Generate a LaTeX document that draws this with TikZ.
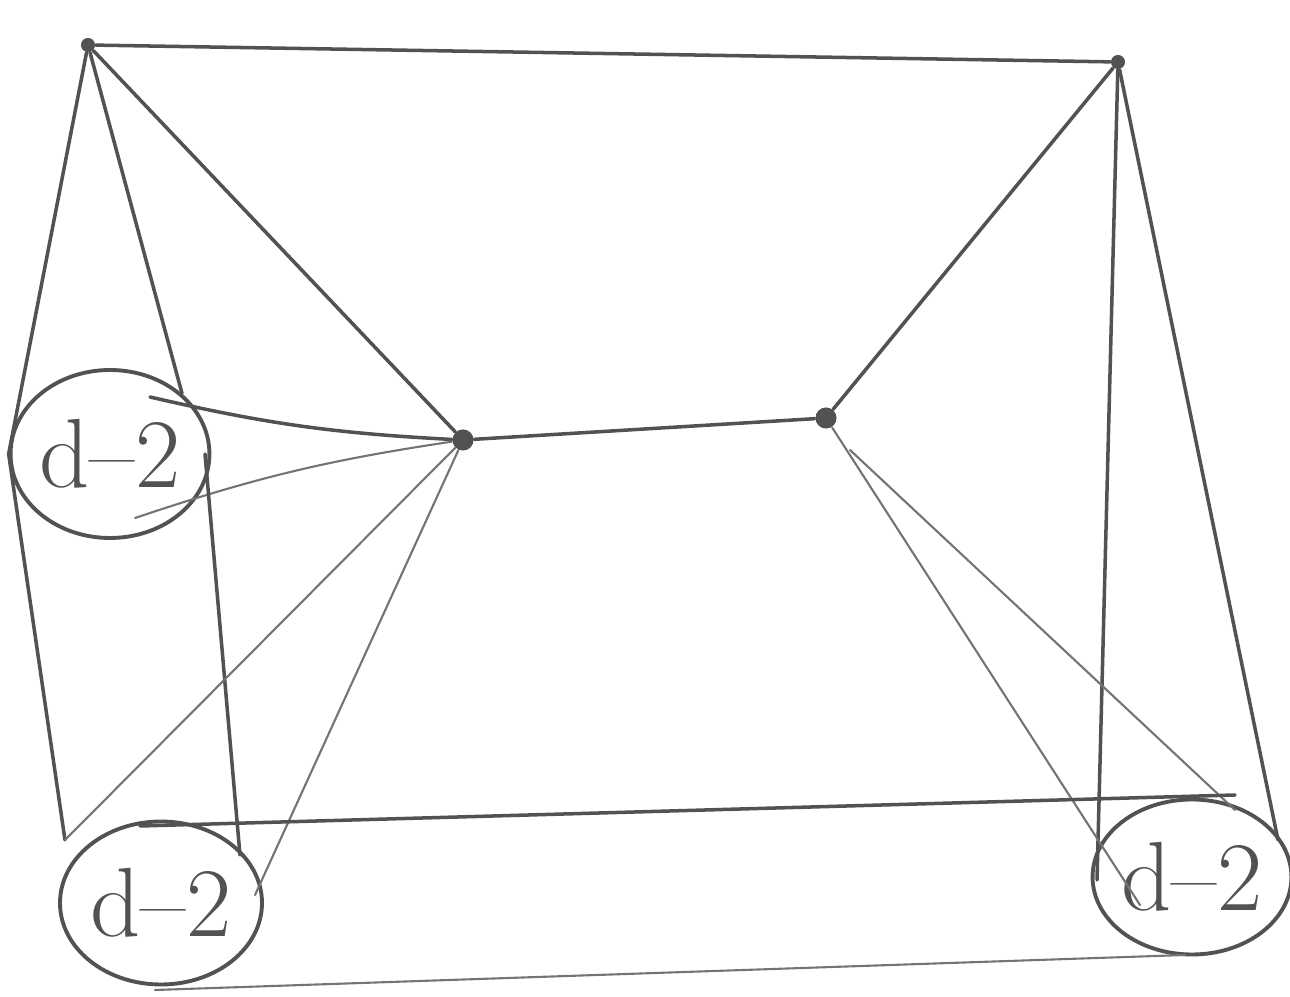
\documentclass[tikz,border=0pt]{standalone}
\usepackage{tikz}
\usetikzlibrary{shapes.geometric}
\colorlet{pencil}{black!68}

\begin{document}
\begin{tikzpicture}[
  vtx/.style={circle, fill=pencil, inner sep=0pt, minimum size=4pt},
  blob/.style={ellipse, draw=pencil, line width=1.1pt, inner sep=0pt,
               font=\fontsize{28}{32}\selectfont, text=pencil},
  edge/.style={draw=pencil, line width=1.0pt, line cap=round},
  faint/.style={draw=pencil!80, line width=0.6pt, line cap=round},
]
  \useasboundingbox (0,0) rectangle (12.9,-9.97);

  \node[vtx] (tl) at (0.88,-0.45) {};
  \node[vtx] (tr) at (11.18,-0.62) {};
  \node[vtx, minimum size=6pt] (ml) at (4.63,-4.40) {};
  \node[vtx, minimum size=6pt] (mr) at (8.26,-4.18) {};

  \node[blob, minimum width=1.85cm, minimum height=1.68cm] (cl) at (1.10,-4.54) {d--2};
  \node[blob, minimum width=2.02cm, minimum height=1.63cm] (cbl) at (1.61,-9.03) {d--2};
  \node[blob, minimum width=1.85cm, minimum height=1.55cm] (cbr) at (11.92,-8.77) {d--2};

  % ends inside or on the circles
  \coordinate (cl-a) at ([shift={(0.40,0.57)}]cl.center);
  \coordinate (cl-b) at ([shift={(0.25,-0.64)}]cl.center);
  \coordinate (cl-r) at ([shift={(0.95,0)}]cl.center);
  \coordinate (cbl-nw) at ([shift={(-0.96,0.63)}]cbl.center);
  \coordinate (cbl-ne) at ([shift={(0.79,0.48)}]cbl.center);
  \coordinate (cbl-e) at ([shift={(0.94,0.08)}]cbl.center);
  \coordinate (cbl-t) at ([shift={(-0.21,0.77)}]cbl.center);
  \coordinate (cbl-b) at ([shift={(-0.06,-0.87)}]cbl.center);
  \coordinate (cbr-t) at ([shift={(0.43,0.82)}]cbr.center);
  \coordinate (cbr-b) at ([shift={(-0.07,-0.78)}]cbr.center);
  \coordinate (cbr-w) at ([shift={(-0.95,-0.03)}]cbr.center);
  \coordinate (cbr-e) at ([shift={(0.86,0.37)}]cbr.center);
  \coordinate (cbr-sw) at ([shift={(-0.52,-0.28)}]cbr.center);
  \coordinate (cbr-ne) at ([shift={(0.43,0.67)}]cbr.center);
  \coordinate (mr-s) at ([shift={(0.24,-0.32)}]mr.center);

  \draw[edge] (tl) -- (tr);
  \draw[edge] (tl) -- (ml);
  \draw[edge] (tl) -- (cl.west);
  \draw[edge] (tl) -- (cl.40);
  \draw[edge] (cl-a) to[bend right=5] (ml);
  \draw[faint] (cl-b) to[bend left=5] (ml);
  \draw[edge] (cl-r) -- (cbl-ne);
  \draw[edge] (cl.west) -- (cbl-nw);
  \draw[faint] (ml) -- (cbl-nw);
  \draw[faint] (ml) -- (cbl-e);
  \draw[edge] (ml) -- (mr);
  \draw[edge] (mr) -- (tr);
  \draw[edge] (tr) -- (cbr-w);
  \draw[edge] (tr) -- (cbr-e);
  \draw[faint] (mr) -- (cbr-sw);
  \draw[faint] (mr-s) -- (cbr-ne);
  \draw[edge] (cbl-t) -- (cbr-t);
  \draw[faint] (cbl-b) -- (cbr-b);
\end{tikzpicture}
\end{document}
